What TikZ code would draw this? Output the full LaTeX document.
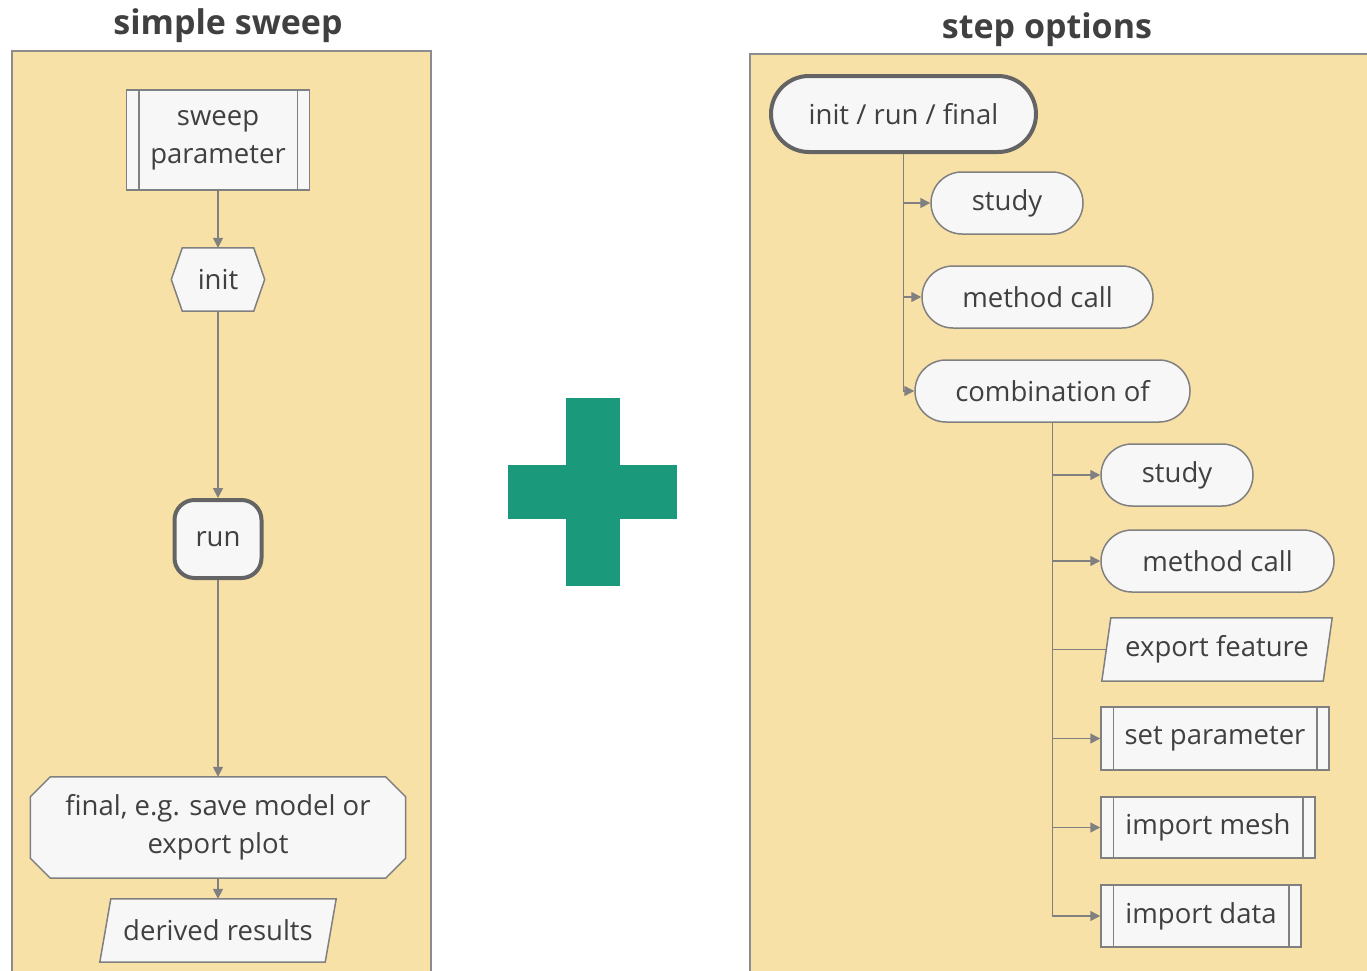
\documentclass[tikz,border=0pt]{standalone}
\usepackage{fontspec}
\setmainfont{Open Sans}
\usetikzlibrary{arrows.meta,calc}
\pgfdeclarelayer{bg}
\pgfdeclarelayer{shp}
\pgfsetlayers{bg,shp,main}

\definecolor{panelfill}{RGB}{248,225,167}
\definecolor{panelline}{RGB}{140,140,140}
\definecolor{nodefill}{RGB}{247,247,247}
\definecolor{nodeline}{RGB}{128,128,128}
\definecolor{darkline}{RGB}{100,100,100}
\definecolor{txt}{RGB}{64,64,64}
\definecolor{plusgreen}{RGB}{26,154,123}

\tikzset{
  panel/.style={draw=panelline, fill=panelfill, line width=2pt},
  title/.style={font=\bfseries\fontsize{34}{40}\selectfont, text=txt, anchor=base, inner sep=0pt},
  box/.style={draw=nodeline, fill=nodefill, line width=1.5pt, text=txt, inner sep=0pt, align=center},
  plain/.style={draw=none, text=txt, inner sep=0pt, align=center},
  pill/.style={box, rounded corners=31pt, minimum height=62pt},
  heavy/.style={draw=darkline, line width=4pt},
  outline/.style={draw=nodeline, fill=nodefill, line width=1.5pt},
  conn/.style={draw=nodeline, line width=1.5pt, -{Triangle[length=10pt,width=10pt]}},
  link/.style={draw=nodeline, line width=1.5pt},
}

% inner bars of a predefined-process box
\newcommand\sidebars[2]{%
  \draw[link] ([xshift=#2]#1.north west) -- ([xshift=#2]#1.south west);
  \draw[link] ([xshift=-#2]#1.north east) -- ([xshift=-#2]#1.south east);}
% hexagon around a node
\newcommand\hexoutline[2]{%
  \begin{pgfonlayer}{shp}
  \draw[outline] ([xshift=#2]#1.north west) -- ([xshift=-#2]#1.north east) -- (#1.east)
    -- ([xshift=-#2]#1.south east) -- ([xshift=#2]#1.south west) -- (#1.west) -- cycle;
  \end{pgfonlayer}}
% rectangle with cut corners around a node
\newcommand\cutoutline[2]{%
  \begin{pgfonlayer}{shp}
  \draw[outline] ([xshift=#2]#1.north west) -- ([xshift=-#2]#1.north east)
    -- ([yshift=-#2]#1.north east) -- ([yshift=#2]#1.south east)
    -- ([xshift=-#2]#1.south east) -- ([xshift=#2]#1.south west)
    -- ([yshift=#2]#1.south west) -- ([yshift=-#2]#1.north west) -- cycle;
  \end{pgfonlayer}}
% parallelogram around a node
\newcommand\slantoutline[2]{%
  \begin{pgfonlayer}{shp}
  \draw[outline] ([xshift=#2]#1.north west) -- (#1.north east)
    -- ([xshift=-#2]#1.south east) -- (#1.south west) -- cycle;
  \end{pgfonlayer}}

\begin{document}
\begin{tikzpicture}[x=1pt, y=-1pt, font=\fontsize{27.5}{38}\selectfont]
\useasboundingbox (0,0) rectangle (1367,970);

% panels
\begin{pgfonlayer}{bg}
  \draw[panel] (12,51) rectangle (431,980);
  \draw[panel] (750,54) rectangle (1380,980);
\end{pgfonlayer}

\node[title] (t1) at (228,34) {simple sweep};
\node[title] (t2) at (1047,38) {step options};

% ---- simple sweep ----
\node[box, minimum width=183pt, minimum height=100pt] (sp) at (218,140) {sweep\\parameter};
\sidebars{sp}{13pt}
\node[plain, minimum width=93pt, minimum height=63pt] (init) at (218,279.5) {init};
\hexoutline{init}{11pt}
\node[box, heavy, rounded corners=20pt, minimum width=87pt, minimum height=78pt] (run) at (218,539) {run};
\node[plain, minimum width=375pt, minimum height=101pt] (final) at (218,827.5) {final, e.g. save model or\\export plot};
\cutoutline{final}{20pt}
\node[plain, minimum width=236pt, minimum height=63pt] (dr) at (218,930.5) {derived results};
\slantoutline{dr}{11pt}

\draw[conn] (sp) -- (init);
\draw[conn] (init) -- (run);
\draw[conn] (run) -- (final);
\draw[conn] (final) -- (dr);

% ---- plus ----
\fill[plusgreen] (566,398) rectangle (620,586);
\fill[plusgreen] (508,465) rectangle (677,519);

% ---- step options ----
\node[box, heavy, rounded corners=38pt, minimum width=265pt, minimum height=76pt] (irf) at (903.5,114) {init / run / final};
\node[pill, minimum width=152pt] (s1) at (1007,203) {study};
\node[pill, minimum width=231pt] (m1) at (1037.5,297) {method call};
\node[pill, minimum width=275pt] (comb) at (1052.5,391) {combination of};

\draw[conn] (irf.south) |- (s1.west);
\draw[conn] (irf.south) |- (m1.west);
\draw[conn] (irf.south) |- (comb.west);

\node[pill, minimum width=152pt] (s2) at (1177,475) {study};
\node[pill, minimum width=233pt] (m2) at (1217.5,561) {method call};
\node[plain, minimum width=230pt, minimum height=63pt] (ef) at (1217,649.5) {export feature};
\slantoutline{ef}{9pt}
\node[box, minimum width=228pt, minimum height=63pt] (spar) at (1215,738.5) {set parameter};
\sidebars{spar}{13pt}
\node[box, minimum width=214pt, minimum height=61pt] (im) at (1208,827.5) {import mesh};
\sidebars{im}{13pt}
\node[box, minimum width=200pt, minimum height=62pt] (id) at (1201,916) {import data};
\sidebars{id}{13pt}

\draw[conn] (comb.south) |- (s2.west);
\draw[conn] (comb.south) |- (m2.west);
\draw[link] (comb.south) |- ([xshift=4.5pt]ef.west);
\draw[conn] (comb.south) |- (spar.west);
\draw[conn] (comb.south) |- (im.west);
\draw[conn] (comb.south) |- (id.west);
\end{tikzpicture}
\end{document}
